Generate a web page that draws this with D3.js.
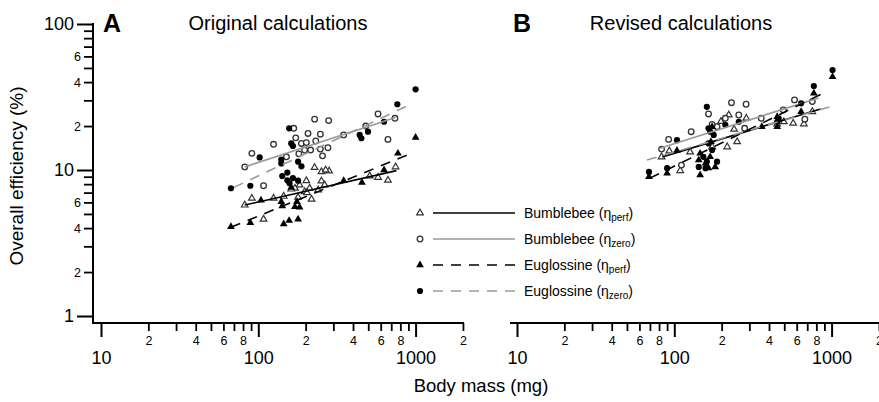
<!DOCTYPE html>
<html>
<head>
<meta charset="utf-8">
<script src="https://cdn.jsdelivr.net/npm/d3@7"></script>
<style>
  body { margin: 0; background: #fff; }
  text { font-family: "Liberation Sans", Arial, Helvetica, sans-serif; fill: #000; }
</style>
</head>
<body>
<script>
//width and height
var w = 879;
var h = 402;

// ---- data: [body mass (mg), efficiency (%)] ----
// panel A, original calculations
var bumblePerfA = [[82,5.75],[91,6.4],[108,4.6],[125,6.4],[202,8.45],[228,10.4],[252,9.73],[282,9.84],[252,8.4],
    [212,7.5],[218,6.3],[240,7.3],[264,7.9],[183,7.9],[197,7.1],[171,7.5],[577,8.9],[667,8.5],[746,10.5],
    [511,9.1],[162,7.4],[179,6.5],[204,7.0],[268,10],[145,6.6]];
var bumbleZeroA = [[82,10.5],[91,13.0],[125,15.0],[168,19.3],[228,22.3],[280,21.8],[207,17.8],[248,17.6],
    [173,16.6],[188,15.2],[202,15.4],[232,15.8],[151,12.3],[181,12.9],[215,13.7],[248,13.9],[277,14.2],
    [256,12.5],[197,13.7],[108,7.8],[349,17.4],[482,20.0],[577,24.2],[739,22.6],[667,16.2]];
var eugPerfA = [[67,4.09],[89,4.35],[104,6.2],[140,6.07],[142,5.67],[145,4.27],[157,4.5],[179,4.6],[171,5.6],
    [183,5.55],[176,6.07],[349,8.45],[456,8.2],[630,10],[772,13.0],[1000,16.7],[162,7.6]];
var eugZeroA = [[67,7.5],[89,7.8],[102,12.2],[140,11.8],[157,19.3],[162,15.2],[166,14.6],[179,11.4],[188,10.6],
    [142,9.1],[153,8.5],[166,8.8],[179,8.45],[158,8.1],[153,9.6],[140,11.1],[441,17.4],[452,16.5],[498,18.3],
    [630,21.4],[765,28.2],[1000,35.7]];

// panel B, revised calculations
var bumblePerfB = [[83,12.3],[93,13.5],[109,9.9],[126,13.3],[222,23.8],[287,22.6],[217,14.4],[251,15.6],
    [174,14.4],[451,20.7],[570,20.9],[666,20.7],[754,25.1],[497,21.4],[198,21.5],[240,19.0]];
var bumbleZeroB = [[92,16.2],[128,18.3],[83,13.9],[165,24.2],[231,28.9],[286,28.2],[211,22.6],[187,19.8],
    [257,23.8],[280,19.3],[357,22.6],[493,25.8],[581,30.2],[754,29.4],[676,22.3],[111,10.8],[174,20.5]];
var eugPerfB = [[69,9.0],[90,9.5],[104,13.6],[146,13.0],[143,11.7],[146,9.24],[158,11.1],[169,12.3],[182,10.5],
    [165,10.3],[171,15.6],[174,19.8],[451,23.2],[451,19.8],[640,25.1],[360,19.8],[771,33.5],[1014,43.5]];
var eugZeroB = [[69,9.7],[90,10.3],[161,27.1],[165,19.3],[169,18.3],[178,17.4],[165,15.2],[174,13.7],
    [153,12.3],[161,11.4],[187,11.4],[143,10.5],[158,10.3],[104,16.0],[451,21.4],[461,22.6],[640,28.6],
    [211,20.4],[257,21.4],[771,37.6],[1014,48.4]];

// fitted lines, end points
var fitBumblePerfA = [[82,5.75],[755,9.9]];
var fitBumbleZeroA = [[82,10.5],[746,22.9]];
var fitEugPerfA = [[67,4.05],[906,12.8]];
var fitEugZeroA = [[70,7.6],[906,27.8]];
var fitBumblePerfB = [[84,12.3],[851,26.2]];
var fitBumbleZeroB = [[81,14.1],[826,31.1]];
var fitEugPerfB = [[70,8.8],[889,33.7]];
var fitEugZeroB = [[67,11.7],[1014,27.4]];

// tick values
var xMajor = [10, 100, 1000];
var xMinor = [20,30,40,50,60,70,80,90,200,300,400,500,600,700,800,900,2000];
var xMinorLabelled = [20,40,60,80,200,400,600,800,2000];
var yMajor = [1, 10, 100];
var yMinor = [2,3,4,5,6,7,8,9,20,30,40,50,60,70,80,90];
var yMinorLabelled = [2,4,6,20,40,60];

var legendNames = ["Bumblebee", "Bumblebee", "Euglossine", "Euglossine"];
var legendSubs = ["perf", "zero", "perf", "zero"];

// style per series: marker, filled, line colour, dashed
var seriesStyle = [
    {mark: "tri", fill: false, color: "#000", dash: null},
    {mark: "circ", fill: false, color: "#999", dash: null},
    {mark: "tri", fill: true, color: "#000", dash: "10,8"},
    {mark: "circ", fill: true, color: "#999", dash: "10,8"}
];

var svg = d3.select("body")
            .append("svg")
            .attr("width", w)
            .attr("height", h);

//shared y scale
var y = d3.scaleLog().domain([1, 100]).range([316, 24]);
var axisY = 323;

var panels = [
    {letter: "A", title: "Original calculations", x0: 101, axisStart: 93, letterX: 103, titleX: 278,
     points: [bumblePerfA, bumbleZeroA, eugPerfA, eugZeroA],
     fits: [fitBumblePerfA, fitBumbleZeroA, fitEugPerfA, fitEugZeroA], yAxis: true},
    {letter: "B", title: "Revised calculations", x0: 517, axisStart: 510, letterX: 513, titleX: 681,
     points: [bumblePerfB, bumbleZeroB, eugPerfB, eugZeroB],
     fits: [fitBumblePerfB, fitBumbleZeroB, fitEugPerfB, fitEugZeroB], yAxis: false}
];

var fmtMinor = function(d) {
    if (xMinorLabelled.indexOf(d) < 0) return "";
    return String(d / Math.pow(10, Math.floor(Math.log10(d))));
};

function drawMark(g, style, px, py) {
    if (style.mark == "circ") {
        g.append("circle")
            .attr("cx", px).attr("cy", py)
            .attr("r", style.fill ? 3.1 : 2.8)
            .attr("fill", style.fill ? "#000" : "#fff")
            .attr("stroke", style.fill ? "none" : "#333")
            .attr("stroke-width", 1.3);
    } else {
        g.append("path")
            .attr("d", d3.symbol().type(d3.symbolTriangle).size(style.fill ? 26 : 19)())
            .attr("transform", "translate(" + px + "," + py + ")")
            .attr("fill", style.fill ? "#000" : "#fff")
            .attr("stroke", style.fill ? "none" : "#333")
            .attr("stroke-width", 1.2);
    }
}

panels.forEach(function(p) {
    var x = d3.scaleLog().domain([10, 2000]).range([p.x0, p.x0 + 157.3 * Math.log10(200)]);

    //points
    var pg = svg.append("g");
    p.points.forEach(function(data, si) {
        data.forEach(function(d) {
            drawMark(pg, seriesStyle[si], x(d[0]), y(d[1]));
        });
    });

    //fitted lines
    var line = d3.line().x(function(d) { return x(d[0]); }).y(function(d) { return y(d[1]); });
    p.fits.forEach(function(f, si) {
        svg.append("path")
            .attr("d", line(f))
            .attr("fill", "none")
            .attr("stroke", seriesStyle[si].color)
            .attr("stroke-width", 1.6)
            .attr("stroke-dasharray", seriesStyle[si].dash);
    });

    //x axis
    svg.append("line")
        .attr("x1", p.axisStart).attr("x2", Math.min(x(2000) + 1, w))
        .attr("y1", axisY).attr("y2", axisY)
        .attr("stroke", "#000").attr("stroke-width", 2);

    svg.append("g")
        .attr("transform", "translate(0," + axisY + ")")
        .call(d3.axisBottom(x).tickValues(xMajor).tickSize(14).tickPadding(14).tickFormat(d3.format("d")))
        .call(function(g) {
            g.select(".domain").remove();
            g.selectAll("line").attr("stroke-width", 2);
            g.selectAll("text").style("font-size", "18px").attr("font-family", null);
        });

    svg.append("g")
        .attr("transform", "translate(0," + axisY + ")")
        .call(d3.axisBottom(x).tickValues(xMinor).tickSize(8).tickPadding(5).tickFormat(fmtMinor))
        .call(function(g) {
            g.select(".domain").remove();
            g.selectAll("line").attr("stroke-width", 1.8);
            g.selectAll("text").style("font-size", "12.5px").attr("font-family", null);
        });

    //y axis, only on panel A
    if (p.yAxis) {
        svg.append("line")
            .attr("x1", 93).attr("x2", 93)
            .attr("y1", y(100) - 1).attr("y2", axisY + 1)
            .attr("stroke", "#000").attr("stroke-width", 2);

        svg.append("g")
            .attr("transform", "translate(93,0)")
            .call(d3.axisLeft(y).tickValues(yMajor).tickSize(16).tickPadding(3).tickFormat(d3.format("d")))
            .call(function(g) {
                g.select(".domain").remove();
                g.selectAll("line").attr("stroke-width", 2);
                g.selectAll("text").style("font-size", "18px").attr("font-family", null);
            });

        svg.append("g")
            .attr("transform", "translate(93,0)")
            .call(d3.axisLeft(y).tickValues(yMinor).tickSize(9).tickPadding(3)
                .tickFormat(function(d) {
                    if (yMinorLabelled.indexOf(d) < 0) return "";
                    return String(d / Math.pow(10, Math.floor(Math.log10(d))));
                }))
            .call(function(g) {
                g.select(".domain").remove();
                g.selectAll("line").attr("stroke-width", 1.8);
                g.selectAll("text").style("font-size", "12.5px").attr("font-family", null);
            });
    }

    //panel letter and title
    svg.append("text")
        .attr("x", p.letterX).attr("y", 32)
        .style("font-size", "25px").style("font-weight", "bold")
        .text(p.letter);
    svg.append("text")
        .attr("x", p.titleX).attr("y", 30)
        .attr("text-anchor", "middle")
        .style("font-size", "20px")
        .text(p.title);
});

//axis titles
svg.append("text")
    .attr("x", 481).attr("y", 392)
    .attr("text-anchor", "middle")
    .style("font-size", "18.5px")
    .text("Body mass (mg)");

svg.append("text")
    .attr("transform", "translate(23,176) rotate(-90)")
    .attr("text-anchor", "middle")
    .style("font-size", "19px")
    .text("Overall efficiency (%)");

//legend
var leg = svg.append("g");
legendNames.forEach(function(name, i) {
    var ly = 213 + i * 26;
    var st = seriesStyle[i];
    drawMark(leg, st, 420, ly);
    leg.append("line")
        .attr("x1", 433).attr("x2", 515)
        .attr("y1", ly).attr("y2", ly)
        .attr("stroke", st.color)
        .attr("stroke-width", 1.6)
        .attr("stroke-dasharray", st.dash);
    var t = leg.append("text")
        .attr("x", 524).attr("y", ly + 5)
        .style("font-size", "14px");
    t.append("tspan").text(name + " (\u03b7");
    t.append("tspan").attr("dy", 3).style("font-size", "10px").text(legendSubs[i]);
    t.append("tspan").attr("dy", -3).text(")");
});
</script>
</body>
</html>
